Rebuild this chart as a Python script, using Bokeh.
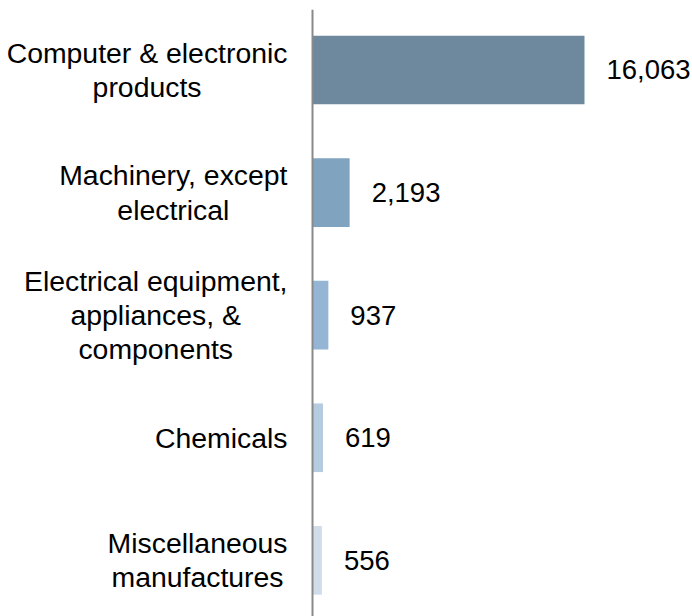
from bokeh.plotting import figure
from bokeh.models import ColumnDataSource, Range1d, Span
from bokeh.core.properties import value
from bokeh.embed import file_html
from bokeh.resources import INLINE

categories = [
    "Computer & electronic\nproducts",
    "Machinery, except\nelectrical",
    "Electrical equipment,\nappliances, &\ncomponents",
    "Chemicals",
    "Miscellaneous\nmanufactures",
]
values = [16063, 2193, 937, 619, 556]
labels = ["16,063", "2,193", "937", "619", "556"]
colors = ["#6E899E", "#80A3C0", "#94B5D3", "#B4CBE0", "#D0DDE9"]

pos = list(range(len(categories)))
src = ColumnDataSource(dict(y=pos, v=values, lab=labels, c=colors,
                            cat=categories, zero=[0] * len(pos)))

FONT = "Liberation Sans"
K = 16063 / 272.0  # data units per pixel

p = figure(
    width=692, height=616,
    output_backend="svg", toolbar_location=None,
    x_range=Range1d(-312 * K, 380 * K),
    y_range=Range1d(4.458, -0.4935),
    x_axis_location=None, y_axis_location=None,
    min_border_left=0, min_border_right=0,
    min_border_top=9, min_border_bottom=0,
)
p.outline_line_color = None
p.grid.visible = False

p.hbar(y="y", right="v", left=0, height=0.56, fill_color="c",
       line_color=None, source=src)
p.text(x="v", y="y", text="lab", source=src, x_offset=22,
       text_align="left", text_baseline="middle",
       text_font=value(FONT), text_font_size="27.5px", text_color="#000000")
p.text(x="zero", y="y", text="cat", source=src, x_offset=-25,
       anchor="center_right", text_align="center", text_baseline="middle",
       text_font=value(FONT), text_font_size="28.4px", text_color="#000000",
       text_line_height=1.07)

p.add_layout(Span(location=0, dimension="height", line_color="#898989",
                  line_width=2))

open("out.html", "w").write(file_html(p, INLINE))
